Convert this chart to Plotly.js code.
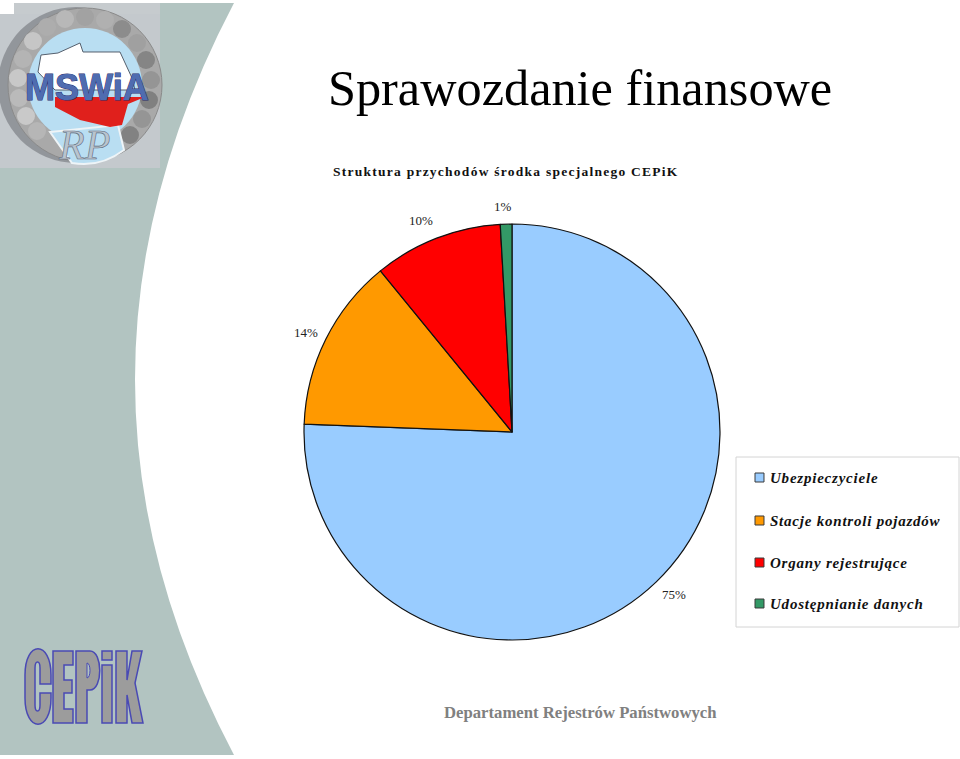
<!DOCTYPE html>
<html><head><meta charset="utf-8">
<script src="https://cdn.plot.ly/plotly-3.0.1.min.js"></script>
<style>
html,body{margin:0;padding:0;background:#fff}
#c{width:960px;height:759px}
.annotation[data-index="1"] text{letter-spacing:1.25px}
.annotation[data-index="2"] text,.annotation[data-index="3"] text,.annotation[data-index="4"] text,.annotation[data-index="5"] text{letter-spacing:.78px}
.annotation[data-index="7"] text{stroke:#2b2f6e;stroke-width:1px;paint-order:stroke}
.annotation[data-index="8"] text{stroke:#5d6b7c;stroke-width:.6px}
</style></head><body><div id="c"></div>
<script>
const categories=["Ubezpieczyciele","Stacje kontroli pojazdów","Organy rejestrujące","Udostępnianie danych"];
const values=[75.6,13.5,10.0,0.9];
const percentLabels=["75%","14%","10%","1%"];
const colors=["#99ccff","#ff9900","#ff0000","#339966"];
const W=960,H=759;
const X=v=>(v/W).toFixed(5), Y=v=>(1-v/H).toFixed(5);
function P(list){
  return list.map(s=>{const c=s[0];let o=c;for(let i=1;i<s.length;i+=2){o+=(i>1?" ":"")+X(s[i])+","+Y(s[i+1]);}return o;}).join(" ");
}
const shape=(d,fill,line,w)=>({type:"path",xref:"paper",yref:"paper",path:P(d)+" Z",fillcolor:fill,line:{color:line||fill,width:w||0},layer:"below"});
const circ=(cx,cy,r,fill,line,w,op)=>({type:"circle",xref:"paper",yref:"paper",x0:X(cx-r),x1:X(cx+r),y0:Y(cy+r),y1:Y(cy-r),fillcolor:fill,opacity:op===undefined?1:op,line:{color:line||fill,width:w||0},layer:"below"});
const rect=(a,b,c,d,fill,line,w)=>({type:"rect",xref:"paper",yref:"paper",x0:X(a),x1:X(c),y0:Y(d),y1:Y(b),fillcolor:fill,line:{color:line||fill,width:w||0},layer:"below"});
const note=(t,x,y,size,color,family,anchor)=>({text:t,xref:"paper",yref:"paper",x:X(x),y:Y(y),xanchor:anchor||"left",align:anchor||"left",yanchor:"middle",showarrow:false,borderpad:0,font:{size:size,color:color,family:family||"Liberation Serif"}});

const letter="#9c9c9c", edge="#4a4ab4";
const wreath=[[85,17,9,"#a2a2a2"],[105,20,9,"#b0b0b0"],[122,29,9,"#8c8c8c"],[137,43,9,"#a0a0a0"],[146,60,9,"#858585"],[151,80,9,"#959595"],[149,100,9,"#808080"],[142,119,9,"#959595"],[130,135,9,"#828282"],
 [65,19,9,"#b8b8b8"],[47,27,9,"#adadad"],[33,41,9,"#c6c6c6"],[23,59,9,"#b4b4b4"],[18,78,9,"#c8c8c8"],[19,98,9,"#bababa"],[26,116,9,"#c9c9c9"],[37,131,9,"#b6b6b6"]];
const shapes=[
 shape([["M",0,3],["L",234,3],["Q",36,380,234,755],["L",0,755]],"#b2c4c1"),
 rect(0,3,14,14,"#ffffff"),
 rect(14,3,160,14,"#c6cbce"),rect(0,14,160,168,"#c4c9cd"),
 circ(76,85,78,"#7d8086",null,0,.7),
 circ(85,85,77,"#a9a9a9","#8a8a8a",1)
];
wreath.forEach(w=>shapes.push(circ(w[0],w[1],w[2],w[3])));
shapes.push(
 circ(85,85,57,"#b9def2"),
 shape([["M",50,132],["L",72,163],["Q",100,168,124,150],["L",118,125]],"#b9def2","#eef4f7",2),
 shape([["M",38,72],["L",41,55],["L",58,53],["L",80,43],["L",83,52],["L",120,52],["L",132,78],["L",135,90],["L",55,90]],"#ffffff","#55606e",1),
 shape([["M",55,97],["L",145,97],["L",128,104],["L",122,125],["L",110,127],["L",80,120],["L",55,107]],"#e0201c"),
 shape([["M",25,675],["C",25,640,51,640,51,675],["L",51,684],["L",40,684],["L",40,668],["C",40,660,35,660,35,668],["L",35,705],["C",35,713,40,713,40,705],["L",40,693],["L",51,693],["L",51,698],["C",51,733,25,733,25,698]],letter,edge,1.5),
 shape([["M",53,651],["L",73,651],["L",73,665],["L",64,665],["L",64,680],["L",72,680],["L",72,693],["L",64,693],["L",64,709],["L",73,709],["L",73,723],["L",53,723]],letter,edge,1.5),
 shape([["M",76,651],["L",90,651],["C",103,651,103,690,90,690],["L",87,690],["L",87,723],["L",76,723]],letter,edge,1.5),
 shape([["M",87,663],["C",91,663,91,678,87,678]],"#b2c4c1",edge,1),
 shape([["M",102,651],["L",112,651],["L",112,660],["L",102,660]],letter,edge,1.5),
 shape([["M",102,665],["L",112,665],["L",112,723],["L",102,723]],letter,edge,1.5),
 shape([["M",116,651],["L",127,651],["L",127,680],["L",132,651],["L",142,651],["L",135,683],["L",143,723],["L",132,723],["L",127,695],["L",127,723],["L",116,723]],letter,edge,1.5),
 rect(736,457,959,627,"#ffffff","#d4d4d4",1)
);
const rowY=[478,521,563,604];
categories.forEach((c,i)=>shapes.push(rect(755,rowY[i]-5,764,rowY[i]+4,colors[i],"#3a3a3a",1)));

const annotations=[
 note("Sprawozdanie finansowe",327,88,50.3,"#000000"),
 note("<b>Struktura przychodów środka specjalnego CEPiK</b>",332,172,13.5,"#111111")
];
categories.forEach((c,i)=>annotations.push(note("<b><i>"+c+"</i></b>",769,rowY[i],15,"#111111")));
annotations.push(note("<b>Departament Rejestrów Państwowych</b>",443,713,16.7,"#808080"));
annotations.push(note("<b>MSWiA</b>",87,88,36,"#4f6cb0","Liberation Sans","center"));
annotations.push(note("<i>RP</i>",84,145,42,"#b9c4ce","Liberation Serif","center"));
const pctX=[674,306,421,503], pctY=[594,332,221,206];
percentLabels.forEach((t,i)=>annotations.push(note(t,pctX[i],pctY[i],13,"#222222","Liberation Serif","center")));

Plotly.newPlot("c",[{type:"pie",labels:categories,values:values,textinfo:"none",
  sort:false,direction:"clockwise",rotation:0,hole:0,showlegend:false,
  marker:{colors:colors,line:{color:"#111111",width:1.2}},
  domain:{x:[304/W,720/W],y:[1-640/H,1-224/H]},hoverinfo:"label+percent"}],
 {width:W,height:H,margin:{l:0,r:0,t:0,b:0},paper_bgcolor:"#fff",showlegend:false,shapes:shapes,annotations:annotations},
 {displayModeBar:false,staticPlot:true});
</script></body></html>
